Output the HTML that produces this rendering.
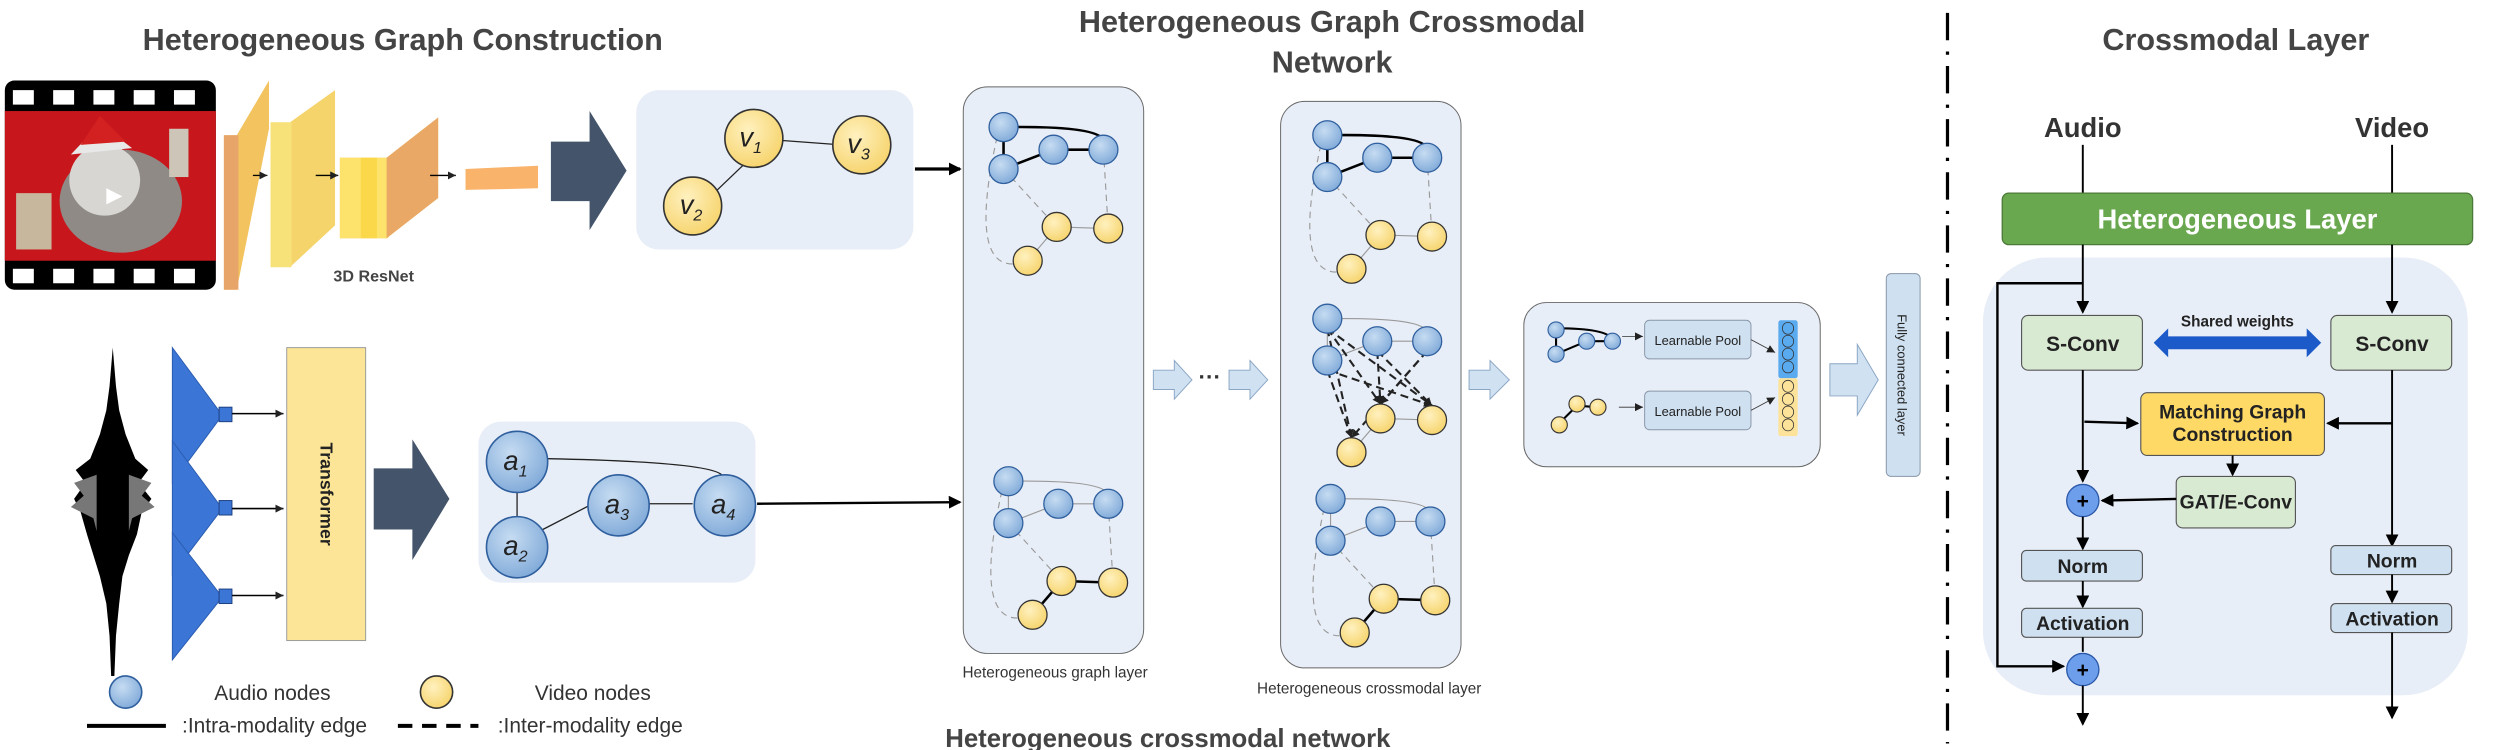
<!DOCTYPE html>
<html><head><meta charset="utf-8"><style>
html,body{margin:0;padding:0;background:#fff;}
svg{display:block;}
text{font-family:"Liberation Sans Narrow","Liberation Sans",sans-serif;}
</style></head><body>
<svg id="fig" width="2500" height="750" viewBox="0 0 1552 466" preserveAspectRatio="none" xmlns="http://www.w3.org/2000/svg">
<defs>
<radialGradient id="gb" cx="0.4" cy="0.35" r="0.7"><stop offset="0" stop-color="#c6dcf2"/><stop offset="1" stop-color="#7fa9d8"/></radialGradient>
<radialGradient id="gy" cx="0.4" cy="0.35" r="0.7"><stop offset="0" stop-color="#fff1bf"/><stop offset="1" stop-color="#f6d36a"/></radialGradient>
<marker id="ah" markerWidth="8" markerHeight="8" refX="7" refY="4" orient="auto" markerUnits="userSpaceOnUse"><path d="M0,0 L8,4 L0,8 z" fill="#000"/></marker>
<marker id="ahs" markerWidth="5" markerHeight="5" refX="5" refY="2.5" orient="auto" markerUnits="userSpaceOnUse"><path d="M0,0 L5,2.5 L0,5 z" fill="#222"/></marker>
</defs>

<!-- titles -->
<text x="250" y="31" font-size="19" font-weight="bold" fill="#444" text-anchor="middle">Heterogeneous Graph Construction</text>
<text x="827" y="20" font-size="19" font-weight="bold" fill="#444" text-anchor="middle">Heterogeneous Graph Crossmodal</text>
<text x="827" y="45" font-size="19" font-weight="bold" fill="#444" text-anchor="middle">Network</text>
<text x="1388" y="31" font-size="19" font-weight="bold" fill="#444" text-anchor="middle">Crossmodal Layer</text>
<text x="725" y="464" font-size="16" font-weight="bold" fill="#444" text-anchor="middle">Heterogeneous crossmodal network</text>

<!-- video frame -->
<g>
<rect x="3" y="50" width="131" height="130" rx="6" fill="#000"/>
<rect x="3" y="69" width="131" height="93" fill="#c8171c"/>
<ellipse cx="75" cy="125" rx="38" ry="32" fill="#8f8a86"/>
<ellipse cx="65" cy="112" rx="22" ry="22" fill="#d8d6d2"/>
<path d="M44,96 L62,77 L82,92 z" fill="#e8e8e8"/>
<path d="M50,90 L62,72 L78,88 z" fill="#d32020"/>
<rect x="10" y="120" width="22" height="35" fill="#c7b79d"/>
<rect x="105" y="80" width="12" height="30" fill="#ccc5b8"/>
<path d="M66,117 L76,122 L66,127 z" fill="#fff"/>
<g fill="#fff"><rect x="8" y="56" width="13" height="9"/><rect x="33" y="56" width="13" height="9"/><rect x="58" y="56" width="13" height="9"/><rect x="83" y="56" width="13" height="9"/><rect x="108" y="56" width="13" height="9"/>
<rect x="8" y="167" width="13" height="9"/><rect x="33" y="167" width="13" height="9"/><rect x="58" y="167" width="13" height="9"/><rect x="83" y="167" width="13" height="9"/><rect x="108" y="167" width="13" height="9"/></g>
</g>

<!-- 3D ResNet blocks -->
<g>
<path d="M139,84 L147,84 L167,50 L167,80 L147,180 L139,180 z" fill="#f2c35e"/>
<rect x="139" y="84" width="9" height="96" fill="#e8a56a"/>
<path d="M168,76 L180,76 L208,56 L208,140 L180,166 L168,166 z" fill="#f4d46b"/>
<rect x="168" y="76" width="13" height="90" fill="#f7e27a"/>
<path d="M211,98 L240,98 L272,73 L272,123 L240,148 L211,148 z" fill="#f4c45c"/>
<rect x="211" y="98" width="30" height="50" fill="#fde36b"/>
<rect x="224" y="98" width="10" height="50" fill="#fbd84a"/>
<path d="M240,98 L272,73 L272,123 L240,148 z" fill="#e9a866"/>
<path d="M289,105 L334,103 L334,117 L289,118 z" fill="#f9b36b"/>
<line x1="157" y1="109" x2="166" y2="109" stroke="#000" stroke-width="0.8" marker-end="url(#ahs)"/>
<line x1="196" y1="109" x2="210" y2="109" stroke="#000" stroke-width="0.8" marker-end="url(#ahs)"/>
<line x1="267" y1="109" x2="283" y2="109" stroke="#000" stroke-width="0.8" marker-end="url(#ahs)"/>
<text x="232" y="175" font-size="10" font-weight="bold" fill="#444" text-anchor="middle">3D ResNet</text>
</g>
<path d="M342,88 L366,88 L366,69 L389,106 L366,143 L366,125 L342,125 z" fill="#44546a"/>

<!-- video graph panel -->
<g>
<rect x="395" y="56" width="172" height="99" rx="14" fill="#e8eef7"/>
<line x1="468" y1="86" x2="536" y2="91" stroke="#222" stroke-width="0.8"/>
<line x1="462" y1="102" x2="438" y2="125" stroke="#222" stroke-width="0.8"/>
<circle cx="468" cy="86" r="18" fill="url(#gy)" stroke="#333"/>
<circle cx="535" cy="90" r="18" fill="url(#gy)" stroke="#333"/>
<circle cx="430" cy="128" r="18" fill="url(#gy)" stroke="#333"/>
<text x="466" y="91" font-family="Liberation Serif" font-style="italic" font-size="17" fill="#222" text-anchor="middle">v<tspan font-size="10" dy="4">1</tspan></text>
<text x="533" y="95" font-family="Liberation Serif" font-style="italic" font-size="17" fill="#222" text-anchor="middle">v<tspan font-size="10" dy="4">3</tspan></text>
<text x="429" y="133" font-family="Liberation Serif" font-style="italic" font-size="17" fill="#222" text-anchor="middle">v<tspan font-size="10" dy="4">2</tspan></text>
</g>
<line x1="568" y1="105" x2="596" y2="105" stroke="#000" stroke-width="2" marker-end="url(#ah)"/>

<!-- audio -->
<g>
<path d="M70,216 L72,240 L74,255 L78,270 L84,285 L92,292 L86,300 L94,310 L88,318 L85,332 L80,345 L76,358 L74,375 L72,395 L71,420 L69,420 L68,395 L66,375 L62,358 L58,345 L54,332 L50,318 L46,310 L53,300 L47,292 L56,285 L62,270 L66,255 L68,240 z" fill="#000"/>
<path d="M60,295 L46,300 L52,308 L44,315 L58,322 L60,330 z M80,295 L94,300 L88,308 L96,315 L82,322 L80,330 z" fill="#777"/>
</g>
<g>
<path d="M107,216 L138,258 L107,300 z" fill="#3b76d6" stroke="#2a5bb0" stroke-width="0.6"/>
<path d="M107,274 L138,316 L107,357 z" fill="#3b76d6" stroke="#2a5bb0" stroke-width="0.6"/>
<path d="M107,331 L138,371 L107,410 z" fill="#3b76d6" stroke="#2a5bb0" stroke-width="0.6"/>
<rect x="136" y="253" width="8" height="9" fill="#3b76d6" stroke="#1e3f80" stroke-width="0.6"/>
<rect x="136" y="311" width="8" height="9" fill="#3b76d6" stroke="#1e3f80" stroke-width="0.6"/>
<rect x="136" y="366" width="8" height="9" fill="#3b76d6" stroke="#1e3f80" stroke-width="0.6"/>
<line x1="144" y1="257" x2="176" y2="257" stroke="#000" marker-end="url(#ahs)"/>
<line x1="144" y1="316" x2="176" y2="316" stroke="#000" marker-end="url(#ahs)"/>
<line x1="144" y1="370" x2="176" y2="370" stroke="#000" marker-end="url(#ahs)"/>
</g>
<g>
<rect x="178" y="216" width="49" height="182" fill="#fde597" stroke="#999" stroke-width="0.6"/>
<text transform="translate(199,307) rotate(90)" font-family="Liberation Sans" font-size="11" font-weight="bold" fill="#222" text-anchor="middle">Transformer</text>
</g>
<path d="M232,291 L256,291 L256,273 L279,310 L256,348 L256,329 L232,329 z" fill="#44546a"/>

<g>
<rect x="297" y="262" width="172" height="100" rx="14" fill="#e8eef7"/>
<path d="M340,285 Q440,287 448,295" fill="none" stroke="#222" stroke-width="0.8"/>
<line x1="321" y1="305" x2="321" y2="322" stroke="#222" stroke-width="0.8"/>
<line x1="335" y1="330" x2="368" y2="313" stroke="#222" stroke-width="0.8"/>
<line x1="401" y1="313" x2="430" y2="313" stroke="#222" stroke-width="0.8"/>
<circle cx="321" cy="287" r="19" fill="url(#gb)" stroke="#2f5f9e"/>
<circle cx="321" cy="340" r="19" fill="url(#gb)" stroke="#2f5f9e"/>
<circle cx="384" cy="314" r="19" fill="url(#gb)" stroke="#2f5f9e"/>
<circle cx="450" cy="314" r="19" fill="url(#gb)" stroke="#2f5f9e"/>
<text x="320" y="292" font-family="Liberation Serif" font-style="italic" font-size="17" fill="#222" text-anchor="middle">a<tspan font-size="10" dy="4">1</tspan></text>
<text x="320" y="345" font-family="Liberation Serif" font-style="italic" font-size="17" fill="#222" text-anchor="middle">a<tspan font-size="10" dy="4">2</tspan></text>
<text x="383" y="319" font-family="Liberation Serif" font-style="italic" font-size="17" fill="#222" text-anchor="middle">a<tspan font-size="10" dy="4">3</tspan></text>
<text x="449" y="319" font-family="Liberation Serif" font-style="italic" font-size="17" fill="#222" text-anchor="middle">a<tspan font-size="10" dy="4">4</tspan></text>
</g>
<line x1="470" y1="313" x2="596" y2="312" stroke="#000" stroke-width="1.5" marker-end="url(#ah)"/>

<!-- legend -->
<g>
<circle cx="78" cy="430" r="10" fill="url(#gb)" stroke="#2f5f9e"/>
<text x="133" y="435" font-size="13" fill="#333">Audio nodes</text>
<circle cx="271" cy="430" r="10" fill="url(#gy)" stroke="#333"/>
<text x="332" y="435" font-size="13" fill="#333">Video nodes</text>
<line x1="54" y1="451" x2="103" y2="451" stroke="#000" stroke-width="2.5"/>
<text x="113" y="455" font-size="13" fill="#333">:Intra-modality edge</text>
<line x1="247" y1="451" x2="297" y2="451" stroke="#000" stroke-width="2.5" stroke-dasharray="9,6"/>
<text x="309" y="455" font-size="13" fill="#333">:Inter-modality edge</text>
</g>

<!-- graph layer panel -->
<rect x="598" y="54" width="112" height="352" rx="15" fill="#e8eef7" stroke="#666" stroke-width="0.6"/>
<text x="655" y="421" font-size="9.5" fill="#333" text-anchor="middle">Heterogeneous graph layer</text>
<rect x="795" y="63" width="112" height="352" rx="15" fill="#e8eef7" stroke="#666" stroke-width="0.6"/>
<text x="850" y="431" font-size="9.5" fill="#333" text-anchor="middle">Heterogeneous crossmodal layer</text>
<g id="graphs"></g>

<!-- small arrows between panels -->
<g fill="#d0e1f2" stroke="#8aa6c4" stroke-width="0.6">
<path d="M716,230 L729,230 L729,224 L740,236 L729,248 L729,242 L716,242 z"/>
<path d="M763,230 L776,230 L776,224 L787,236 L776,248 L776,242 L763,242 z"/>
<path d="M912,230 L925,230 L925,224 L937,236 L925,248 L925,242 L912,242 z"/>
<path d="M1136,226 L1153,226 L1153,214 L1166,236 L1153,258 L1153,246 L1136,246 z"/>
</g>
<text x="751" y="239" font-size="14" font-weight="bold" fill="#333" text-anchor="middle">···</text>

<!-- pool panel -->
<g>
<rect x="946" y="188" width="184" height="102" rx="14" fill="#e8eef7" stroke="#666" stroke-width="0.6"/>
<path d="M966,204 Q998,204 1001,211" fill="none" stroke="#000" stroke-width="1.3"/>
<line x1="966" y1="205" x2="966" y2="220" stroke="#000" stroke-width="1.3"/>
<line x1="966" y1="220" x2="985" y2="212" stroke="#000" stroke-width="1.3"/>
<line x1="985" y1="212" x2="1001" y2="212" stroke="#000" stroke-width="1.3"/>
<circle cx="966" cy="205" r="5" fill="url(#gb)" stroke="#2f5f9e" stroke-width="0.7"/>
<circle cx="966" cy="220" r="5" fill="url(#gb)" stroke="#2f5f9e" stroke-width="0.7"/>
<circle cx="985" cy="212" r="5" fill="url(#gb)" stroke="#2f5f9e" stroke-width="0.7"/>
<circle cx="1001" cy="212" r="5" fill="url(#gb)" stroke="#2f5f9e" stroke-width="0.7"/>
<line x1="969" y1="262" x2="979" y2="252" stroke="#000" stroke-width="1.3"/>
<line x1="979" y1="252" x2="991" y2="253" stroke="#000" stroke-width="1.3"/>
<circle cx="968" cy="264" r="5" fill="url(#gy)" stroke="#333" stroke-width="0.7"/>
<circle cx="979" cy="251" r="5" fill="url(#gy)" stroke="#333" stroke-width="0.7"/>
<circle cx="992" cy="253" r="5" fill="url(#gy)" stroke="#333" stroke-width="0.7"/>
<line x1="1007" y1="209" x2="1020" y2="209" stroke="#333" stroke-width="0.5" marker-end="url(#ahs)"/>
<line x1="1005" y1="253" x2="1020" y2="253" stroke="#333" stroke-width="0.5" marker-end="url(#ahs)"/>
<rect x="1021" y="199" width="66" height="24" rx="3" fill="#cfe0f0" stroke="#8796a8" stroke-width="0.6"/>
<text x="1054" y="214.5" font-family="Liberation Sans" font-size="8" fill="#222" text-anchor="middle">Learnable Pool</text>
<rect x="1021" y="243" width="66" height="24" rx="3" fill="#cfe0f0" stroke="#8796a8" stroke-width="0.6"/>
<text x="1054" y="258.5" font-family="Liberation Sans" font-size="8" fill="#222" text-anchor="middle">Learnable Pool</text>
<line x1="1087" y1="211" x2="1102" y2="219" stroke="#333" stroke-width="0.5" marker-end="url(#ahs)"/>
<line x1="1087" y1="255" x2="1102" y2="247" stroke="#333" stroke-width="0.5" marker-end="url(#ahs)"/>
<rect x="1104" y="199" width="12" height="36" rx="1.5" fill="#5aaaf0"/>
<rect x="1104" y="235" width="12" height="36" rx="1.5" fill="#fde39a"/>
<g fill="none" stroke="#333" stroke-width="0.5">
<ellipse cx="1110" cy="204" rx="3.5" ry="3.7"/><ellipse cx="1110" cy="212" rx="3.5" ry="3.7"/><ellipse cx="1110" cy="220" rx="3.5" ry="3.7"/><ellipse cx="1110" cy="228" rx="3.5" ry="3.7"/>
<ellipse cx="1110" cy="240" rx="3.5" ry="3.7"/><ellipse cx="1110" cy="248" rx="3.5" ry="3.7"/><ellipse cx="1110" cy="256" rx="3.5" ry="3.7"/><ellipse cx="1110" cy="264" rx="3.5" ry="3.7"/></g>
</g>
<g>
<rect x="1171" y="170" width="21" height="126" rx="3" fill="#cfe0f0" stroke="#8796a8" stroke-width="0.6"/>
<text transform="translate(1178,233) rotate(90)" font-family="Liberation Sans" font-size="8" fill="#222" text-anchor="middle">Fully connected layer</text>
</g>

<!-- divider -->
<line x1="1209" y1="8" x2="1209" y2="462" stroke="#000" stroke-width="2" stroke-dasharray="17,7,2,7"/>

<!-- crossmodal layer detail -->
<g>
<rect x="1231" y="160" width="301" height="272" rx="40" fill="#e8eef7"/>
<text x="1293" y="85" font-size="17" font-weight="bold" fill="#333" text-anchor="middle">Audio</text>
<text x="1485" y="85" font-size="17" font-weight="bold" fill="#333" text-anchor="middle">Video</text>
<line x1="1293" y1="90" x2="1293" y2="120" stroke="#000" stroke-width="1.2"/>
<line x1="1485" y1="90" x2="1485" y2="120" stroke="#000" stroke-width="1.2"/>
<rect x="1243" y="120" width="292" height="32" rx="4" fill="#6aa84f" stroke="#4c7a38" stroke-width="0.8"/>
<text x="1389" y="142" font-size="17" font-weight="bold" fill="#fff" text-anchor="middle">Heterogeneous Layer</text>
<line x1="1293" y1="152" x2="1293" y2="194" stroke="#000" stroke-width="1.2" marker-end="url(#ah)"/>
<line x1="1485" y1="152" x2="1485" y2="194" stroke="#000" stroke-width="1.2" marker-end="url(#ah)"/>
<polyline points="1293,176 1240,176 1240,414 1281,414" fill="none" stroke="#000" stroke-width="1.5" marker-end="url(#ah)"/>
<rect x="1255" y="196" width="75" height="34" rx="4" fill="#d9ead3" stroke="#555" stroke-width="0.7"/>
<text x="1293" y="218" font-size="13" font-weight="bold" fill="#222" text-anchor="middle">S-Conv</text>
<rect x="1447" y="196" width="75" height="34" rx="4" fill="#d9ead3" stroke="#555" stroke-width="0.7"/>
<text x="1485" y="218" font-size="13" font-weight="bold" fill="#222" text-anchor="middle">S-Conv</text>
<text x="1389" y="203" font-size="9.5" font-weight="bold" fill="#222" text-anchor="middle">Shared weights</text>
<path d="M1337,213 L1346,204 L1346,209 L1432,209 L1432,204 L1441,213 L1432,222 L1432,217 L1346,217 L1346,222 z" fill="#1c59c9"/>
<line x1="1293" y1="230" x2="1293" y2="299" stroke="#000" stroke-width="1.2" marker-end="url(#ah)"/>
<line x1="1485" y1="230" x2="1485" y2="339" stroke="#000" stroke-width="1.2" marker-end="url(#ah)"/>
<line x1="1294" y1="262" x2="1327" y2="263" stroke="#000" stroke-width="1.5" marker-end="url(#ah)"/>
<line x1="1485" y1="263" x2="1445" y2="263" stroke="#000" stroke-width="1.5" marker-end="url(#ah)"/>
<rect x="1329" y="244" width="114" height="39" rx="4" fill="#ffd966" stroke="#555" stroke-width="0.7"/>
<text x="1386" y="260" font-size="12" font-weight="bold" fill="#222" text-anchor="middle">Matching Graph</text>
<text x="1386" y="274" font-size="12" font-weight="bold" fill="#222" text-anchor="middle">Construction</text>
<line x1="1386" y1="283" x2="1386" y2="295" stroke="#000" stroke-width="1.2" marker-end="url(#ah)"/>
<rect x="1351" y="296" width="74" height="32" rx="4" fill="#d9ead3" stroke="#555" stroke-width="0.7"/>
<text x="1388" y="316" font-size="12" font-weight="bold" fill="#222" text-anchor="middle">GAT/E-Conv</text>
<line x1="1351" y1="310" x2="1305" y2="311" stroke="#000" stroke-width="1.5" marker-end="url(#ah)"/>
<circle cx="1293" cy="311" r="10" fill="#6d9eeb" stroke="#2a57a8" stroke-width="0.8"/>
<text x="1293" y="315.5" font-family="Liberation Sans" font-size="13" font-weight="bold" fill="#000" text-anchor="middle">+</text>
<line x1="1293" y1="321" x2="1293" y2="341" stroke="#000" stroke-width="1.2" marker-end="url(#ah)"/>
<rect x="1255" y="342" width="75" height="19" rx="3" fill="#cfe0f0" stroke="#555" stroke-width="0.7"/>
<text x="1293" y="356" font-size="12" font-weight="bold" fill="#222" text-anchor="middle">Norm</text>
<line x1="1293" y1="361" x2="1293" y2="377" stroke="#000" stroke-width="1.2" marker-end="url(#ah)"/>
<rect x="1255" y="378" width="75" height="18" rx="3" fill="#cfe0f0" stroke="#555" stroke-width="0.7"/>
<text x="1293" y="391.5" font-size="12" font-weight="bold" fill="#222" text-anchor="middle">Activation</text>
<line x1="1293" y1="396" x2="1293" y2="405" stroke="#000" stroke-width="1.2"/>
<circle cx="1293" cy="416" r="10" fill="#6d9eeb" stroke="#2a57a8" stroke-width="0.8"/>
<text x="1293" y="420.5" font-family="Liberation Sans" font-size="13" font-weight="bold" fill="#000" text-anchor="middle">+</text>
<line x1="1293" y1="426" x2="1293" y2="450" stroke="#000" stroke-width="1.2" marker-end="url(#ah)"/>
<rect x="1447" y="339" width="75" height="18" rx="3" fill="#cfe0f0" stroke="#555" stroke-width="0.7"/>
<text x="1485" y="352.5" font-size="12" font-weight="bold" fill="#222" text-anchor="middle">Norm</text>
<line x1="1485" y1="357" x2="1485" y2="374" stroke="#000" stroke-width="1.2" marker-end="url(#ah)"/>
<rect x="1447" y="375" width="75" height="18" rx="3" fill="#cfe0f0" stroke="#555" stroke-width="0.7"/>
<text x="1485" y="388.5" font-size="12" font-weight="bold" fill="#222" text-anchor="middle">Activation</text>
<line x1="1485" y1="393" x2="1485" y2="446" stroke="#000" stroke-width="1.2" marker-end="url(#ah)"/>
</g>
</svg>
<script>
var NS = "http://www.w3.org/2000/svg";
var root = document.getElementById("graphs");
// node offsets relative to first blue node
var blueOff = [[0,0],[31,14],[62,14],[0,26]];
var yelOff = [[33,62],[65,63],[15,83]];
var groupOrigins = [[623,79],[626,299],[824,84],[824,198],[826,310]];
function el(tag, attrs){var e=document.createElementNS(NS,tag);for(var k in attrs)e.setAttribute(k,attrs[k]);root.appendChild(e);return e;}
function drawGroup(gx, gy, idx){
  var B = blueOff.map(function(o){return [gx+o[0],gy+o[1]];});
  var Y = yelOff.map(function(o){return [gx+o[0],gy+o[1]];});
  var thick = (idx===0||idx===2);
  var lw = thick ? 1.6 : 0.7; var lc = thick ? "#000" : "#999";
  var c = el("path",{d:"M"+B[0][0]+","+B[0][1]+" Q"+(B[2][0]-4)+","+(B[0][1]-1)+" "+B[2][0]+","+(B[2][1]-6),fill:"none",stroke:lc,"stroke-width":lw});
  
  
  var l1 = el("line",{x1:B[0][0],y1:B[0][1],x2:B[3][0],y2:B[3][1],stroke:lc,"stroke-width":lw});
  
  
  var l2 = el("line",{x1:B[3][0],y1:B[3][1],x2:B[1][0],y2:B[1][1],stroke:lc,"stroke-width":lw});
  
  
  var l3 = el("line",{x1:B[1][0],y1:B[1][1],x2:B[2][0],y2:B[2][1],stroke:lc,"stroke-width":lw});
  
  
  if (idx===3) {
    for (var i=0;i<4;i++){ for (var j=0;j<3;j++){
      if ((i+j)%4===3) continue;
      var d = el("line",{x1:B[i][0],y1:B[i][1]+6,x2:Y[j][0],y2:Y[j][1]-9,stroke:"#222","stroke-width":1.3,"stroke-dasharray":"5,3","marker-end":"url(#ahs)"});
      
      
    }}
  } else {
    var d1 = el("line",{x1:B[3][0],y1:B[3][1],x2:Y[0][0],y2:Y[0][1],stroke:"#999","stroke-width":0.7,"stroke-dasharray":"4,3"});
    
    
    var d2 = el("line",{x1:B[2][0],y1:B[2][1],x2:Y[1][0],y2:Y[1][1],stroke:"#999","stroke-width":0.7,"stroke-dasharray":"4,3"});
    
    
    var d3 = el("path",{d:"M"+(B[0][0]-4)+","+(B[0][1]+6)+" Q"+(B[0][0]-22)+","+(Y[2][1]+4)+" "+(Y[2][0]-8)+","+(Y[2][1]+2),fill:"none",stroke:"#999","stroke-width":0.7,"stroke-dasharray":"4,3"});
    
    
  }
  var yb = (idx===1||idx===4);
  var y1 = el("line",{x1:Y[0][0],y1:Y[0][1],x2:Y[1][0],y2:Y[1][1],stroke:yb?"#000":"#999","stroke-width":yb?1.6:0.7});
  
  
  var y2 = el("line",{x1:Y[0][0],y1:Y[0][1],x2:Y[2][0],y2:Y[2][1],stroke:yb?"#000":"#999","stroke-width":yb?1.6:0.7});
  
  
  B.forEach(function(p){
    var n = el("circle",{cx:p[0],cy:p[1],r:9,fill:"url(#gb)",stroke:"#2f5f9e","stroke-width":0.8});
    
    
  });
  Y.forEach(function(p){
    var n = el("circle",{cx:p[0],cy:p[1],r:9,fill:"url(#gy)",stroke:"#333","stroke-width":0.8});
    
    
  });
}
groupOrigins.forEach(function(o,i){drawGroup(o[0],o[1],i);});
</script>
</body></html>
